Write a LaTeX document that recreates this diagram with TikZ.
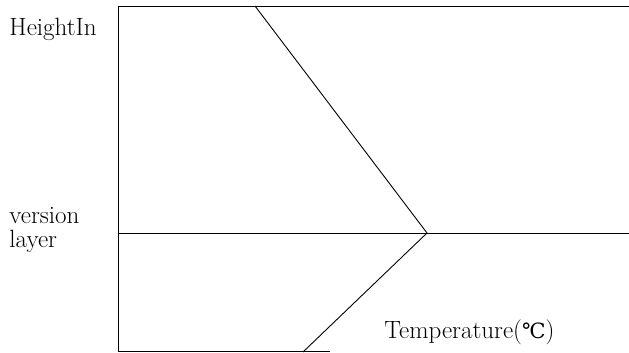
\documentclass[tikz,border=0pt]{standalone}
\usepackage{fontspec}
\newfontfamily\degfont{DejaVu Serif}
\begin{document}
\begin{tikzpicture}[x=1pt,y=-1pt,line width=0.9pt,
  lbl/.style={anchor=base west,inner sep=0pt,font=\fontsize{25}{30}\selectfont}]
  \useasboundingbox (0,0) rectangle (629,353);

  % frame and inversion layer
  \coordinate (topleft) at (118,6);
  \coordinate (topright) at (629,6);
  \coordinate (botleft) at (118,351);
  \coordinate (botend) at (330,351);
  \coordinate (invleft) at (118,233);
  \coordinate (invright) at (629,233);
  \coordinate (kink) at (427,233);
  \coordinate (upstart) at (255,6);
  \coordinate (lowend) at (303,352);

  \draw (topright) -- (topleft) -- (botleft) -- (botend);
  \draw (invleft) -- (invright);
  \draw (upstart) -- (kink) -- (lowend);

  \node[lbl] (height) at (9,36) {HeightIn};
  \node[lbl] (version) at (9,223) {version};
  \node[lbl] (layer) at (9,247) {layer};
  \node[lbl] (temp) at (384,338) {Temperature({\degfont\fontsize{21}{25}\selectfont ℃})};
\end{tikzpicture}
\end{document}
